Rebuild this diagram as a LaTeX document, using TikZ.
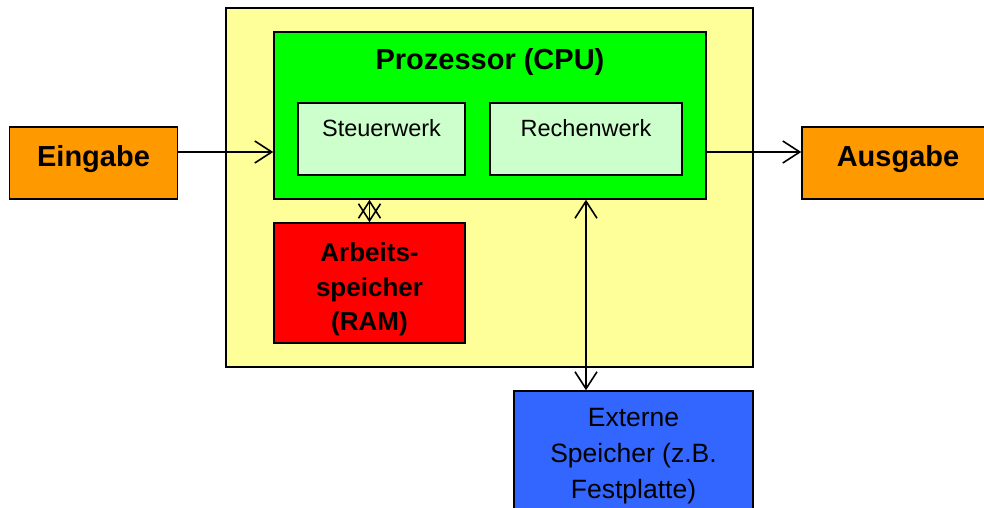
\documentclass[tikz,border=0pt]{standalone}
\usepackage{fontspec}
\setmainfont{Liberation Sans}
\usetikzlibrary{arrows.meta,positioning}

\definecolor{pcyellow}{HTML}{FFFF99}
\definecolor{cpugreen}{HTML}{00FF00}
\definecolor{unitgreen}{HTML}{CCFFCC}
\definecolor{iorange}{HTML}{FF9900}
\definecolor{ramred}{HTML}{FF0000}
\definecolor{extblue}{HTML}{3366FF}

\begin{document}
\begin{tikzpicture}[x=1pt, y=-1pt,
  >={Straight Barb[length=17pt, width=22pt, line width=1.6pt]},
  box/.style={rectangle, draw, line width=1.5pt, align=center},
  inlbl/.style={anchor=north, inner sep=0pt, yshift=-16pt},
  iobox/.style={box, fill=iorange, minimum height=72pt, font=\bfseries\fontsize{29}{34}\selectfont},
  arr/.style={line width=1.6pt, ->},
  darr/.style={line width=1.6pt, <->}]
	\useasboundingbox (0,0) rectangle (984,508);
	
	% Rechner
	\node[box, fill=pcyellow, minimum width=527pt, minimum height=359pt] (pc) at (489.5,187.5) {};
	
	% Prozessor
	\node[box, fill=cpugreen, minimum width=432pt, minimum height=167pt,
	  label={[inlbl, yshift=-1pt, font=\bfseries\fontsize{29}{34}\selectfont]north:Prozessor (CPU)}] (cpu) at (490,115.5) {};
	\node[box, fill=unitgreen, minimum width=167pt, minimum height=72pt,
	  label={[inlbl, yshift=-1pt, font=\fontsize{23.5}{28}\selectfont]north:Steuerwerk}] (steuer) at (381.5,139) {};
	\node[box, fill=unitgreen, minimum width=192pt, minimum height=72pt,
	  label={[inlbl, yshift=-1pt, font=\fontsize{23.5}{28}\selectfont]north:Rechenwerk}] (rechen) at (586,139) {};
	
	% Speicher
	\node[box, fill=ramred, minimum width=191pt, minimum height=120pt, font=\bfseries\fontsize{26}{34.5}\selectfont] (ram) at (369.5,283) {\rule{0pt}{32pt}Arbeits-\\speicher\\(RAM)};
	\node[box, fill=extblue, minimum width=239pt, minimum height=130pt, font=\fontsize{26.5}{36}\selectfont] (ext) at (633.5,456) {Externe\\Speicher (z.B.\\Festplatte)};
	
	% Ein-/Ausgabe
	\node[iobox, minimum width=168pt] (ein) at (93.5,163) {\rule[-14pt]{0pt}{0pt}Eingabe};
	\node[iobox, minimum width=192pt] (aus) at (898,163) {\rule[-14pt]{0pt}{0pt}Ausgabe};
	
	% Verbindungen
	\draw[arr] ([yshift=11pt]ein.east) -- ([yshift=11pt]ein.east -| cpu.west);
	\draw[arr] ([yshift=11pt]aus.west -| cpu.east) -- ([yshift=11pt]aus.west);
	\draw[darr] (rechen.center |- cpu.south) -- (rechen.center |- ext.north);
	\draw[darr] (ram.north) -- (ram.north |- cpu.south);
	
\end{tikzpicture}
\end{document}
